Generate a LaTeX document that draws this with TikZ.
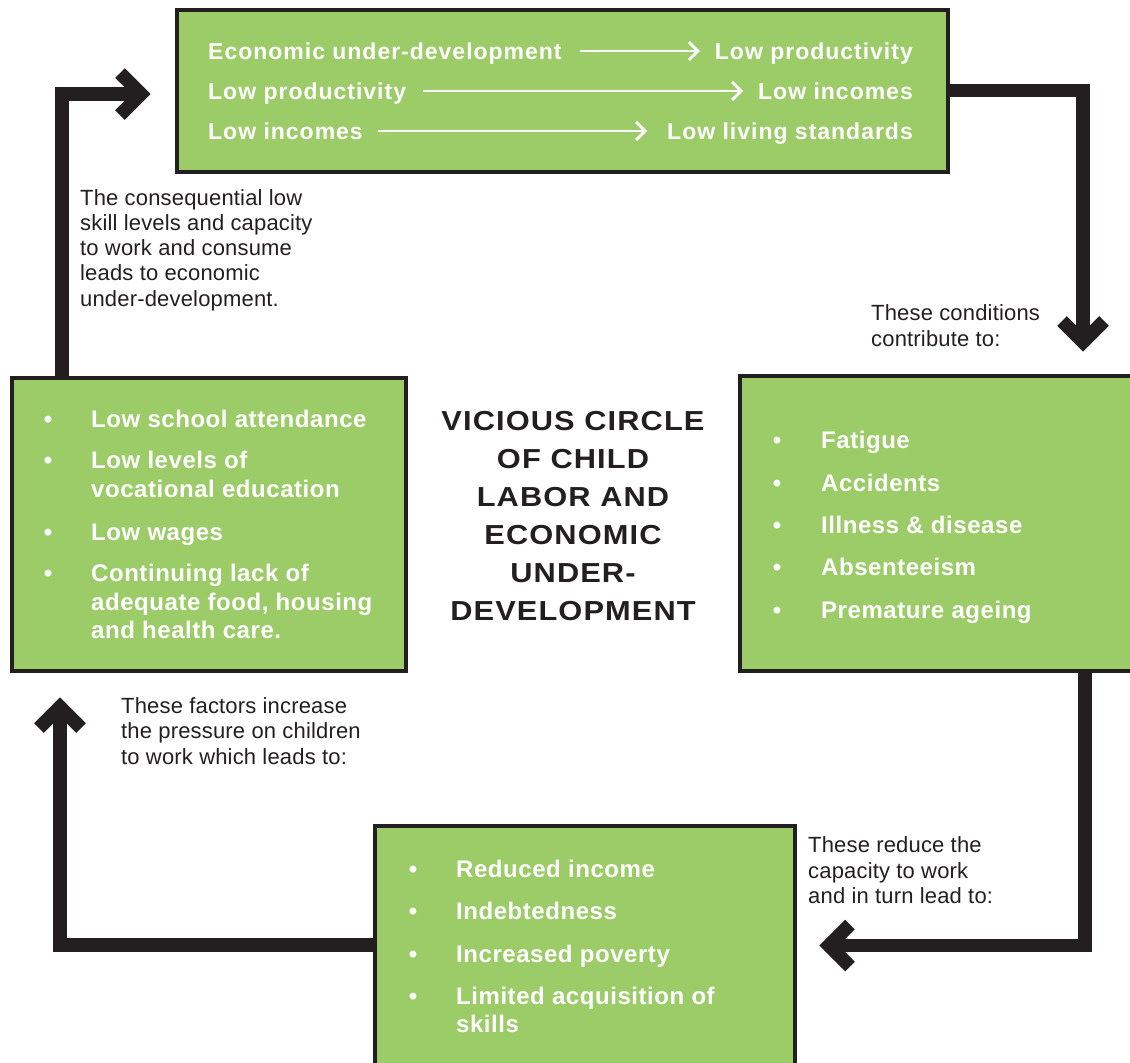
\documentclass[tikz,border=0pt]{standalone}
\usepackage{fontspec}
\setmainfont{Liberation Sans}
\newfontfamily\smallfont{Liberation Sans}[LetterSpace=0.8]
\newfontfamily\boxfont{Liberation Sans}[LetterSpace=2.3]
\newfontfamily\topfont{Liberation Sans}[LetterSpace=4.3]
\newfontfamily\titlefont{Liberation Sans}[FakeStretch=1.12,LetterSpace=4]
\usetikzlibrary{arrows.meta,calc}
\definecolor{leaf}{RGB}{155,204,103}
\definecolor{ink}{HTML}{231F20}
\pgfdeclarelayer{bg}
\pgfsetlayers{bg,main}
\tikzset{
 box/.style={draw=ink, line width=3.5pt, fill=leaf, inner sep=0pt, outer sep=0pt},
 conn/.style={draw=ink, line width=13.5pt, line join=miter, line cap=butt},
 chev/.style={draw=ink, line width=13.5pt, line join=miter, line cap=butt},
 warrow/.style={draw=white, line width=2.8pt, -{Straight Barb[length=9pt,width=18pt,line width=2.8pt]}},
 toptext/.style={text=white, font=\topfont\bfseries\fontsize{23}{28}\selectfont, inner sep=0pt},
 itemtext/.style={text=white, font=\boxfont\bfseries\fontsize{24}{29}\selectfont, inner sep=0pt, anchor=base west},
 bul/.style={text=white, font=\boxfont\bfseries\fontsize{24}{29}\selectfont, inner sep=0pt, anchor=base},
 note/.style={text=ink, font=\smallfont\fontsize{22}{25}\selectfont, inner sep=0pt, anchor=base west},
 ttl/.style={text=ink, font=\titlefont\bfseries\fontsize{27.5}{38}\selectfont, inner sep=0pt, anchor=base},
}
\begin{document}
\begin{tikzpicture}[x=1pt,y=-1pt]
\useasboundingbox (0,0) rectangle (1130,1063);
\clip (0,0) rectangle (1130,1063);

% boxes
\path (562.5,91) node[box, minimum width=771pt, minimum height=162pt] (tbox) {};
\path (209,524.5) node[box, minimum width=394pt, minimum height=293pt] (lbox) {};
\path (937,523.5) node[box, minimum width=394pt, minimum height=295pt] (rbox) {};
\path (585,950.5) node[box, minimum width=420pt, minimum height=249pt] (bbox) {};

% arrow tips (vertices of the chevrons)
\coordinate (a1) at (141,94);
\coordinate (a2) at (1083,342);
\coordinate (a3) at (829,945.5);
\coordinate (a4) at (60,707);

% connectors, behind the boxes
\begin{pgfonlayer}{bg}
\draw[conn] ($(lbox.north west)+(50,0)$) |- (a1);
\draw[chev] ($(a1)+(-21,-21)$) -- (a1) -- ($(a1)+(-21,21)$);

\draw[conn] ($(tbox.north east)+(0,80.5)$) -| (a2);
\draw[chev] ($(a2)+(-21,-21)$) -- (a2) -- ($(a2)+(21,-21)$);

\draw[conn] ($(rbox.south west)+(345,0)$) |- (a3);
\draw[chev] ($(a3)+(21,-21)$) -- (a3) -- ($(a3)+(21,21)$);

\draw[conn] ($(bbox.north west)+(0,119)$) -| (a4);
\draw[chev] ($(a4)+(-21,21)$) -- (a4) -- ($(a4)+(21,21)$);
\end{pgfonlayer}

% top box
\node[toptext, anchor=base west] (t1a) at (208,59) {Economic under-development};
\node[toptext, anchor=base east] (t1b) at (913,59) {Low productivity};
\node[toptext, anchor=base west] (t2a) at (208,99) {Low productivity};
\node[toptext, anchor=base east] (t2b) at (913,99) {Low incomes};
\node[toptext, anchor=base west] (t3a) at (208,139) {Low incomes};
\node[toptext, anchor=base east] (t3b) at (913,139) {Low living standards};
\draw[warrow] ($(t1a.base east)+(18,-8)$) -- ($(t1b.base west)+(-15,-8)$);
\draw[warrow] ($(t2a.base east)+(17,-8)$) -- ($(t2b.base west)+(-15,-8)$);
\draw[warrow] ($(t3a.base east)+(15,-8)$) -- ($(t3b.base west)+(-20,-8)$);

% left box
\node[bul] (lb1) at (48,427) {•};
\node[itemtext] (l1) at (91,427) {Low school attendance};
\node[bul] (lb2) at (48,468) {•};
\node[itemtext] (l2) at (91,468) {Low levels of};
\node[itemtext] (l2b) at (91,497) {vocational education};
\node[bul] (lb3) at (48,540) {•};
\node[itemtext] (l3) at (91,540) {Low wages};
\node[bul] (lb4) at (48,581) {•};
\node[itemtext] (l4) at (91,581) {Continuing lack of};
\node[itemtext] (l4b) at (91,610) {adequate food, housing};
\node[itemtext] (l4c) at (91,638) {and health care.};

% right box
\node[bul] (rb1) at (777,448) {•};
\node[itemtext] (r1) at (821,448) {Fatigue};
\node[bul] (rb2) at (777,491) {•};
\node[itemtext] (r2) at (821,491) {Accidents};
\node[bul] (rb3) at (777,533) {•};
\node[itemtext] (r3) at (821,533) {Illness \& disease};
\node[bul] (rb4) at (777,575) {•};
\node[itemtext] (r4) at (821,575) {Absenteeism};
\node[bul] (rb5) at (777,618) {•};
\node[itemtext] (r5) at (821,618) {Premature ageing};

% bottom box
\node[bul] (bb1) at (413,877) {•};
\node[itemtext] (b1) at (456,877) {Reduced income};
\node[bul] (bb2) at (413,919) {•};
\node[itemtext] (b2) at (456,919) {Indebtedness};
\node[bul] (bb3) at (413,962) {•};
\node[itemtext] (b3) at (456,962) {Increased poverty};
\node[bul] (bb4) at (413,1004) {•};
\node[itemtext] (b4) at (456,1004) {Limited acquisition of};
\node[itemtext] (b4b) at (456,1032) {skills};

% title
\node[ttl] (ti1) at (573,430) {VICIOUS CIRCLE};
\node[ttl] (ti2) at (573,468) {OF CHILD};
\node[ttl] (ti3) at (573,506) {LABOR AND};
\node[ttl] (ti4) at (573,544) {ECONOMIC};
\node[ttl] (ti5) at (573,582) {UNDER-};
\node[ttl] (ti6) at (573,620) {DEVELOPMENT};

% notes
\node[note] (n1a) at (80,205) {The consequential low};
\node[note] (n1b) at (80,230) {skill levels and capacity};
\node[note] (n1c) at (80,255) {to work and consume};
\node[note] (n1d) at (80,280.5) {leads to economic};
\node[note] (n1e) at (80,306) {under-development.};

\node[note] (n2a) at (871,320.5) {These conditions};
\node[note] (n2b) at (871,346) {contribute to:};

\node[note] (n3a) at (808,852) {These reduce the};
\node[note] (n3b) at (808,878) {capacity to work};
\node[note] (n3c) at (808,903.5) {and in turn lead to:};

\node[note] (n4a) at (121,713) {These factors increase};
\node[note] (n4b) at (121,738.5) {the pressure on children};
\node[note] (n4c) at (121,764) {to work which leads to:};
\end{tikzpicture}
\end{document}
